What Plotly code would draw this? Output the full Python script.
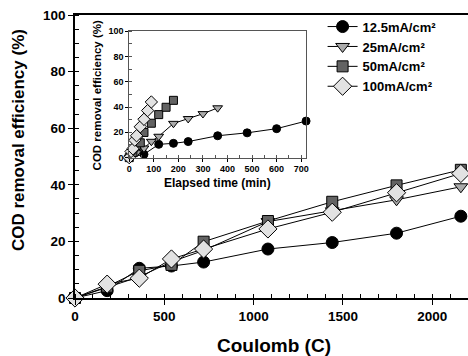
import plotly.graph_objects as go

# ---- data ----
coulomb = [0, 180, 360, 540, 720, 1080, 1440, 1800, 2160]
time_12_5 = [0, 60, 120, 180, 240, 360, 480, 600, 720]
time_25 = [0, 30, 60, 90, 120, 180, 240, 300, 360]
time_50 = [0, 15, 30, 45, 60, 90, 120, 150, 180]
time_100 = [0, 7.5, 15, 22.5, 30, 45, 60, 75, 90]

cod_12_5 = [0, 2.6, 10.5, 11.3, 12.7, 17.3, 19.6, 22.9, 28.9]
cod_25 = [0, 3.8, 7.5, 12.8, 16.8, 27.0, 30.8, 34.7, 39.3]
cod_50 = [0, 4.0, 9.6, 11.7, 19.9, 27.2, 34.0, 39.8, 45.3]
cod_100 = [0, 4.9, 7.0, 13.8, 17.3, 24.4, 30.3, 37.2, 44.0]

labels = ["12.5mA/cm²", "25mA/cm²", "50mA/cm²", "100mA/cm²"]

series = [
    (time_12_5, cod_12_5, "circle", "#000000", 12, 8),
    (time_25, cod_25, "triangle-down", "#ababab", 12, 8.5),
    (time_50, cod_50, "square", "#636363", 11, 8),
    (time_100, cod_100, "diamond", "#e2e2e2", 14, 9.5),
]

FONT = "Liberation Sans, Arial, sans-serif"

fig = go.Figure()

for (t, y, sym, col, msize, isize), name in zip(series, labels):
    fig.add_trace(go.Scatter(
        x=coulomb, y=y, mode="lines+markers", name=name,
        line=dict(color="black", width=1),
        marker=dict(symbol=sym, size=msize, color=col, line=dict(color="black", width=1)),
        cliponaxis=False, xaxis="x", yaxis="y",
    ))

for (t, y, sym, col, msize, isize), name in zip(series, labels):
    fig.add_trace(go.Scatter(
        x=t, y=y, mode="lines+markers", name=name, showlegend=False,
        line=dict(color="black", width=1),
        marker=dict(symbol=sym, size=isize, color=col, line=dict(color="black", width=1)),
        cliponaxis=False, xaxis="x2", yaxis="y2",
    ))

fig.update_layout(
    width=468, height=356,
    margin=dict(l=75, r=0, t=15, b=58, autoexpand=False),
    paper_bgcolor="white", plot_bgcolor="white",
    font=dict(family=FONT, color="black"),
    showlegend=True,
    legend=dict(
        x=0.63, y=1.012, xanchor="left", yanchor="top",
        bgcolor="rgba(0,0,0,0)", itemwidth=30,
        font=dict(family=FONT, size=13, color="black", weight="bold"),
        tracegroupgap=0,
    ),
    xaxis=dict(
        domain=[0, 1], range=[0, 2200], showgrid=False, zeroline=False, automargin=False,
        showline=True, linecolor="black", linewidth=1.5, mirror=True,
        ticks="outside", ticklen=5, tickwidth=1, tickcolor="black",
        tickvals=[0, 500, 1000, 1500, 2000],
        tickfont=dict(family=FONT, size=13.5, weight="bold"),
        minor=dict(dtick=100, ticks="inside", ticklen=4, tickcolor="black"),
    ),
    yaxis=dict(
        domain=[0, 1], range=[0, 100], showgrid=False, zeroline=False, automargin=False,
        showline=True, linecolor="black", linewidth=1.5,
        ticks="outside", ticklen=5, tickwidth=1, tickcolor="black",
        tickvals=[0, 20, 40, 60, 80, 100],
        tickfont=dict(family=FONT, size=13.5, weight="bold"),
        minor=dict(dtick=5, ticks="inside", ticklen=4, tickcolor="black"),
    ),
    xaxis2=dict(
        domain=[0.138, 0.588], anchor="y2", range=[0, 720], showgrid=False, zeroline=False,
        automargin=False,
        showline=True, linecolor="#555555", linewidth=1, mirror=True,
        ticks="outside", ticklen=3, tickcolor="black",
        tickvals=[0, 100, 200, 300, 400, 500, 600, 700],
        tickfont=dict(family=FONT, size=9, weight="bold"),
        minor=dict(dtick=50, ticks="inside", ticklen=2.5, tickcolor="#555555"),
    ),
    yaxis2=dict(
        domain=[0.496, 0.943], anchor="x2", range=[0, 100], showgrid=False, zeroline=False,
        automargin=False,
        showline=True, linecolor="#555555", linewidth=1, mirror=True,
        ticks="outside", ticklen=3, tickcolor="black",
        tickvals=[0, 20, 40, 60, 80, 100],
        tickfont=dict(family=FONT, size=9, weight="bold"),
        minor=dict(dtick=10, ticks="inside", ticklen=2.5, tickcolor="#555555"),
    ),
    annotations=[
        dict(text="Coulomb (C)", xref="paper", yref="paper", x=0.507, y=-0.168,
             xanchor="center", yanchor="middle", showarrow=False,
             font=dict(family=FONT, size=19, weight="bold")),
        dict(text="COD removal efficiency (%)", xref="paper", yref="paper",
             x=-0.145, y=0.558, xanchor="center", yanchor="middle", textangle=-90,
             showarrow=False, font=dict(family=FONT, size=17, weight="bold")),
        dict(text="Elapsed time (min)", xref="paper", yref="paper", x=0.363, y=0.406,
             xanchor="center", yanchor="middle", showarrow=False,
             font=dict(family=FONT, size=12, weight="bold")),
        dict(text="COD removal efficiency (%)", xref="paper", yref="paper",
             x=0.056, y=0.716, xanchor="center", yanchor="middle", textangle=-90,
             showarrow=False, font=dict(family=FONT, size=11.5, weight="bold")),
    ],
)

fig.write_html(
    "out.html",
    config={"displayModeBar": False},
    post_script="document.body.style.margin='0';document.body.style.overflow='hidden';",
)
